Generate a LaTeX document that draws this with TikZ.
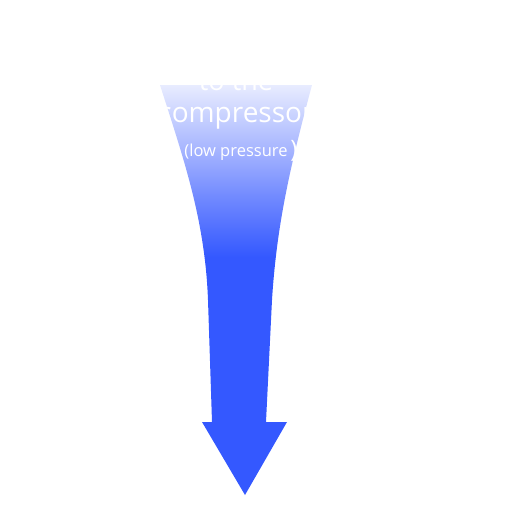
\documentclass[tikz,border=0pt]{standalone}
\usepackage{fontspec}
\setmainfont{Open Sans}
\definecolor{arrblue}{RGB}{52,88,255}
\definecolor{arrmid}{RGB}{110,135,255}
\definecolor{arrlight}{RGB}{165,180,255}
\definecolor{arrtop}{RGB}{232,236,255}
\pgfdeclareverticalshading{arrowshade}{100bp}{%
  color(0bp)=(arrblue);
  color(25bp)=(arrblue);
  color(54bp)=(arrblue);
  color(61bp)=(arrmid);
  color(67bp)=(arrlight);
  color(75bp)=(arrtop);
  color(100bp)=(arrtop)}
\tikzset{
  arrowbody/.style={shading=arrowshade},
  whitetext/.style={text=white, inner sep=0pt, anchor=base}
}
\begin{document}
\begin{tikzpicture}[x=1pt,y=-1pt]
\useasboundingbox (0,0) rectangle (512,512);
\path[arrowbody] (160,85) .. controls (184,160) and (205,220) .. (208,300)
  -- (212,422) -- (202,422) -- (245,495) -- (287,422) -- (266,422)
  -- (272,300) .. controls (277,220) and (292,160) .. (312,85) -- cycle;
\node[whitetext] (t1) at (236,90) {\fontsize{27}{30}\selectfont to the};
\node[whitetext] (t2) at (236,122) {\fontsize{28}{30}\selectfont compressor};
\node[whitetext] (t3) at (236,156) {\fontsize{16.5}{18}\selectfont (low pressure};
\node[whitetext] (t4) at (294,157) {\fontsize{24}{26}\selectfont )};
\end{tikzpicture}
\end{document}
